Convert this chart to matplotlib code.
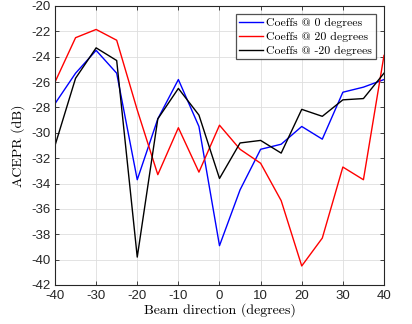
import numpy as np
import matplotlib.pyplot as plt

# beam steering angles (degrees)
beam_dir = [-40, -35, -30, -25, -20, -15, -10, -5, 0, 5, 10, 15, 20, 25, 30, 35, 40]

# ACEPR (dB) for each set of predistorter coefficients
acepr_0 = [-27.7, -25.3, -23.5, -25.3, -33.7, -28.9, -25.8, -29.5, -38.9, -34.5,
           -31.3, -30.9, -29.5, -30.5, -26.8, -26.4, -25.8]
acepr_20 = [-26.0, -22.5, -21.85, -22.7, -28.2, -33.3, -29.6, -33.1, -29.4, -31.3,
            -32.4, -35.35, -40.5, -38.3, -32.7, -33.7, -23.9]
acepr_m20 = [-31.0, -25.7, -23.3, -24.3, -39.8, -28.9, -26.5, -28.6, -33.6, -30.8,
             -30.6, -31.6, -28.15, -28.7, -27.4, -27.3, -25.3]

labels = ["Coeffs @ 0 degrees", "Coeffs @ 20 degrees", "Coeffs @ -20 degrees"]

serif = ['cmr10', 'DejaVu Serif']
plt.rcParams['font.family'] = ['Liberation Sans', 'DejaVu Sans']
plt.rcParams['axes.formatter.use_mathtext'] = True

fig = plt.figure(figsize=(4.12, 3.24), dpi=100)
ax = fig.add_axes([0.1335, 0.1204, 0.7985, 0.8611])

ax.plot(beam_dir, acepr_0, color='#0000ff', lw=1.0, label=labels[0])
ax.plot(beam_dir, acepr_20, color='#ff0000', lw=1.0, label=labels[1])
ax.plot(beam_dir, acepr_m20, color='k', lw=1.0, label=labels[2])

ax.set_xlim(-40, 40)
ax.set_ylim(-42, -20)
ax.set_xticks(np.arange(-40, 41, 10))
ax.set_yticks(np.arange(-42, -19, 2))
ax.set_xticklabels([str(v) for v in range(-40, 41, 10)])
ax.set_yticklabels([str(v) for v in range(-42, -19, 2)])
ax.tick_params(direction='in', top=True, right=True, labelsize=9.5,
               length=3, width=0.6, colors='#262626', labelcolor='#262626')
ax.grid(True, color='#dedede', lw=0.6)
ax.set_axisbelow(True)
for s in ax.spines.values():
    s.set_linewidth(0.8)
    s.set_color('#262626')

ax.set_xlabel("Beam direction (degrees)", family=serif, fontsize=10, labelpad=1)
ax.set_ylabel("ACEPR (dB)", family=serif, fontsize=10, labelpad=4)

leg = ax.legend(loc='upper right', fancybox=False, edgecolor='#262626',
                prop={'family': serif, 'size': 8.5}, handlelength=2.0,
                handletextpad=0.3, borderpad=0.3, labelspacing=0.3,
                borderaxespad=0.7)
leg.get_frame().set_linewidth(0.9)

fig.savefig("out.png", dpi=100)
